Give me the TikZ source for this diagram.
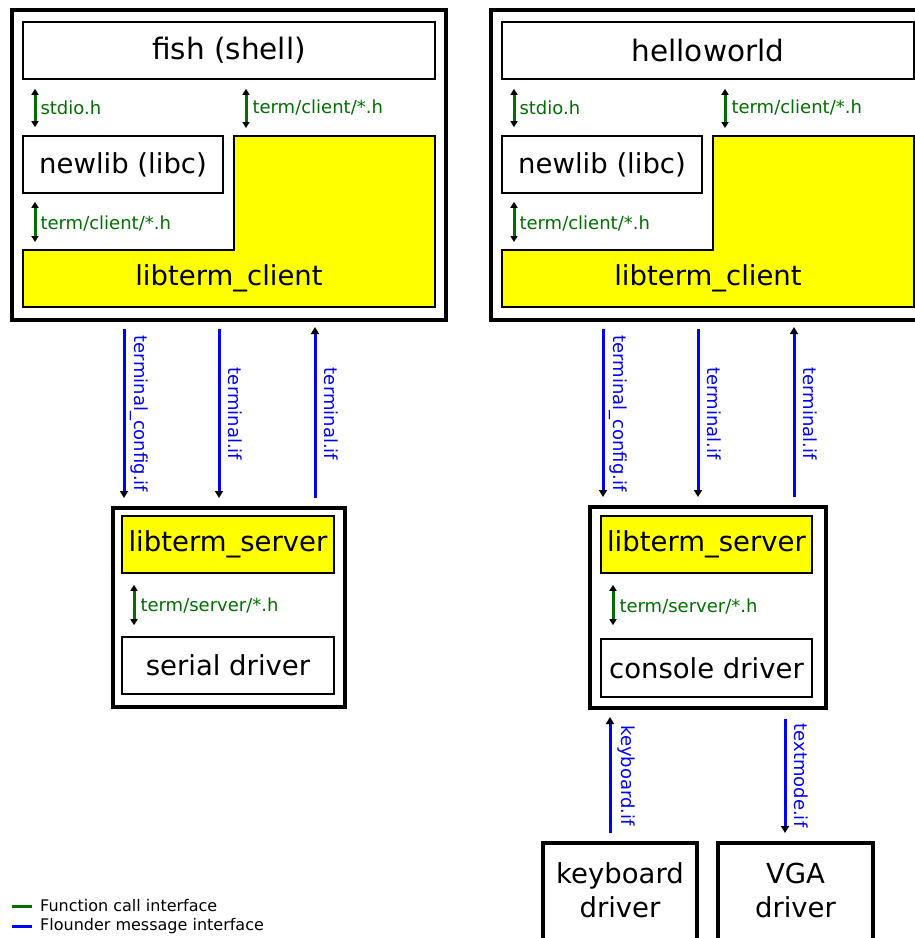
\documentclass[tikz,border=0pt]{standalone}
\usepackage{fontspec}
\setmainfont{DejaVu Sans}
\usetikzlibrary{arrows.meta}
\definecolor{fcgreen}{RGB}{0,110,0}
\definecolor{msgblue}{RGB}{0,0,255}
\definecolor{libyellow}{RGB}{255,255,0}
\begin{document}
\begin{tikzpicture}[x=1pt,y=-1pt,
  tipg/.tip={Triangle[color=black,fill=black,length=6pt,width=7pt]},
  tipb/.tip={Triangle[color=black,fill=black,length=7pt,width=8pt]},
  bigbox/.style={draw, line width=4pt, inner sep=0pt, rectangle},
  compbox/.style={draw, line width=1.6pt, inner sep=0pt, fill=white, font=\fontsize{27.5}{33}\selectfont},
  topbox/.style={compbox, font=\fontsize{29.5}{35}\selectfont},
  libbox/.style={compbox, fill=libyellow},
  libpoly/.style={draw, line width=1.6pt, fill=libyellow},
  libtext/.style={inner sep=0pt, font=\fontsize{27.5}{33}\selectfont},
  drvbox/.style={draw, line width=4pt, inner sep=0pt, align=center, fill=white, font=\fontsize{27.5}{34}\selectfont},
  fcall/.style={draw=fcgreen, line width=3pt, tipg-tipg},
  fclabel/.style={text=fcgreen, anchor=west, inner sep=0pt, font=\fontsize{18}{21}\selectfont},
  msg/.style={draw=msgblue, line width=3pt, -tipb},
  msglabel/.style={text=msgblue, rotate=-90, anchor=base, inner sep=0pt, font=\fontsize{18}{21}\selectfont},
  leglabel/.style={anchor=west, inner sep=0pt, font=\fontsize{16}{19}\selectfont}
]
\useasboundingbox (0,0) rectangle (915,938);
\clip (0,0) rectangle (915,938);

% ---------------- left group ----------------
\node[bigbox, minimum width=434pt, minimum height=310pt] (outerL) at (229,165) {};
\node[topbox, minimum width=412pt, minimum height=57pt] (fishL) at (229,50.5) {fish (shell)};
\node[compbox, minimum width=200pt, minimum height=57pt] (newlibL) at (123,164.5) {newlib (libc)};
\draw[libpoly] (23,250) -- (234,250) -- (234,136) -- (435,136) -- (435,307) -- (23,307) -- cycle;
\node[libtext] (clientL) at (229,278) {libterm\_client};
\coordinate (ctopL) at (234,136);
\coordinate (cmidL) at (23,250);

\node[bigbox, minimum width=232pt, minimum height=199pt] (serverL) at (229,607.5) {};
\node[libbox, minimum width=212pt, minimum height=57pt] (lsrvL) at (228,544.5) {libterm\_server};
\node[compbox, minimum width=212pt, minimum height=57pt] (serial) at (228,665.5) {serial driver};

\coordinate (g1L) at (35,0);
\coordinate (g2L) at (246,0);
\coordinate (g3L) at (134,0);
\draw[fcall, shorten <=9pt, shorten >=8pt] (fishL.south -| g1L) -- node[fclabel, xshift=4pt] {stdio.h} (newlibL.north -| g1L);
\draw[fcall, shorten <=9pt, shorten >=8pt] (fishL.south -| g2L) -- node[fclabel, xshift=5pt] {term/client/*.h} (ctopL -| g2L);
\draw[fcall, shorten <=8pt, shorten >=8pt] (newlibL.south -| g1L) -- node[fclabel, xshift=4pt, yshift=-1.5pt] {term/client/*.h} (cmidL -| g1L);
\draw[fcall, shorten <=11pt, shorten >=11pt] (lsrvL.south -| g3L) -- node[fclabel, xshift=5pt] {term/server/*.h} (serial.north -| g3L);

\coordinate (b1L) at (124,0);
\coordinate (b2L) at (219,0);
\coordinate (b3L) at (315,0);
\draw[msg, shorten <=7pt, shorten >=8pt] (outerL.south -| b1L) -- node[xshift=10.5pt, msglabel] {terminal\_config.if} (serverL.north -| b1L);
\draw[msg, shorten <=7pt, shorten >=8pt] (outerL.south -| b2L) -- node[xshift=9pt, msglabel] {terminal.if} (serverL.north -| b2L);
\draw[msg, shorten <=8pt, shorten >=5pt] (serverL.north -| b3L) -- node[xshift=9pt, msglabel] {terminal.if} (outerL.south -| b3L);

% ---------------- right group ----------------
\node[bigbox, minimum width=434pt, minimum height=310pt] (outerR) at (708,165) {};
\node[topbox, minimum width=412pt, minimum height=57pt] (hello) at (708,50.5) {helloworld};
\node[compbox, minimum width=200pt, minimum height=57pt] (newlibR) at (602,164.5) {newlib (libc)};
\draw[libpoly] (502,250) -- (713,250) -- (713,136) -- (914,136) -- (914,307) -- (502,307) -- cycle;
\node[libtext] (clientR) at (708,278) {libterm\_client};
\coordinate (ctopR) at (713,136);
\coordinate (cmidR) at (502,250);

\node[bigbox, minimum width=236pt, minimum height=201pt] (serverR) at (708,607.5) {};
\node[libbox, minimum width=211pt, minimum height=57pt] (lsrvR) at (706.5,544.5) {libterm\_server};
\node[compbox, minimum width=211pt, minimum height=58pt] (console) at (706.5,668) {console driver};

\coordinate (g1R) at (514,0);
\coordinate (g2R) at (725,0);
\coordinate (g3R) at (613,0);
\draw[fcall, shorten <=9pt, shorten >=8pt] (hello.south -| g1R) -- node[fclabel, xshift=4pt] {stdio.h} (newlibR.north -| g1R);
\draw[fcall, shorten <=9pt, shorten >=8pt] (hello.south -| g2R) -- node[fclabel, xshift=5pt] {term/client/*.h} (ctopR -| g2R);
\draw[fcall, shorten <=8pt, shorten >=8pt] (newlibR.south -| g1R) -- node[fclabel, xshift=4pt, yshift=-1.5pt] {term/client/*.h} (cmidR -| g1R);
\draw[fcall, shorten <=11pt, shorten >=13pt] (lsrvR.south -| g3R) -- node[fclabel, xshift=5pt] {term/server/*.h} (console.north -| g3R);

\coordinate (b1R) at (603,0);
\coordinate (b2R) at (698,0);
\coordinate (b3R) at (794,0);
\draw[msg, shorten <=7pt, shorten >=8pt] (outerR.south -| b1R) -- node[xshift=10.5pt, msglabel] {terminal\_config.if} (serverR.north -| b1R);
\draw[msg, shorten <=7pt, shorten >=8pt] (outerR.south -| b2R) -- node[xshift=9pt, msglabel] {terminal.if} (serverR.north -| b2R);
\draw[msg, shorten <=8pt, shorten >=5pt] (serverR.north -| b3R) -- node[xshift=9pt, msglabel] {terminal.if} (outerR.south -| b3R);

\node[drvbox, minimum width=154pt, minimum height=102pt] (kbd) at (620,894) {};
\node[drvbox, minimum width=155pt, minimum height=102pt] (vga) at (795.5,894) {};
\node[align=center, inner sep=0pt, font=\fontsize{27.5}{34}\selectfont] (kbdtext) at (620,890) {keyboard\\driver};
\node[align=center, inner sep=0pt, font=\fontsize{27.5}{34}\selectfont] (vgatext) at (795.5,890) {VGA\\driver};
\coordinate (bk) at (610,0);
\coordinate (bt) at (785,0);
\draw[msg, shorten <=8pt, shorten >=7pt] (kbd.north -| bk) -- node[xshift=11.5pt, msglabel] {keyboard.if} (serverR.south -| bk);
\draw[msg, shorten <=9pt, shorten >=8pt] (serverR.south -| bt) -- node[xshift=9pt, msglabel] {textmode.if} (vga.north -| bt);

% ---------------- legend ----------------
\node[leglabel] (leg1) at (40,906) {Function call interface};
\node[leglabel] (leg2) at (40,926) {Flounder message interface};
\draw[fcgreen, line width=3pt] ([xshift=-8pt]leg1.west) -- ([xshift=-28pt]leg1.west);
\draw[msgblue, line width=3pt] ([xshift=-8pt]leg2.west) -- ([xshift=-28pt]leg2.west);
\end{tikzpicture}
\end{document}
